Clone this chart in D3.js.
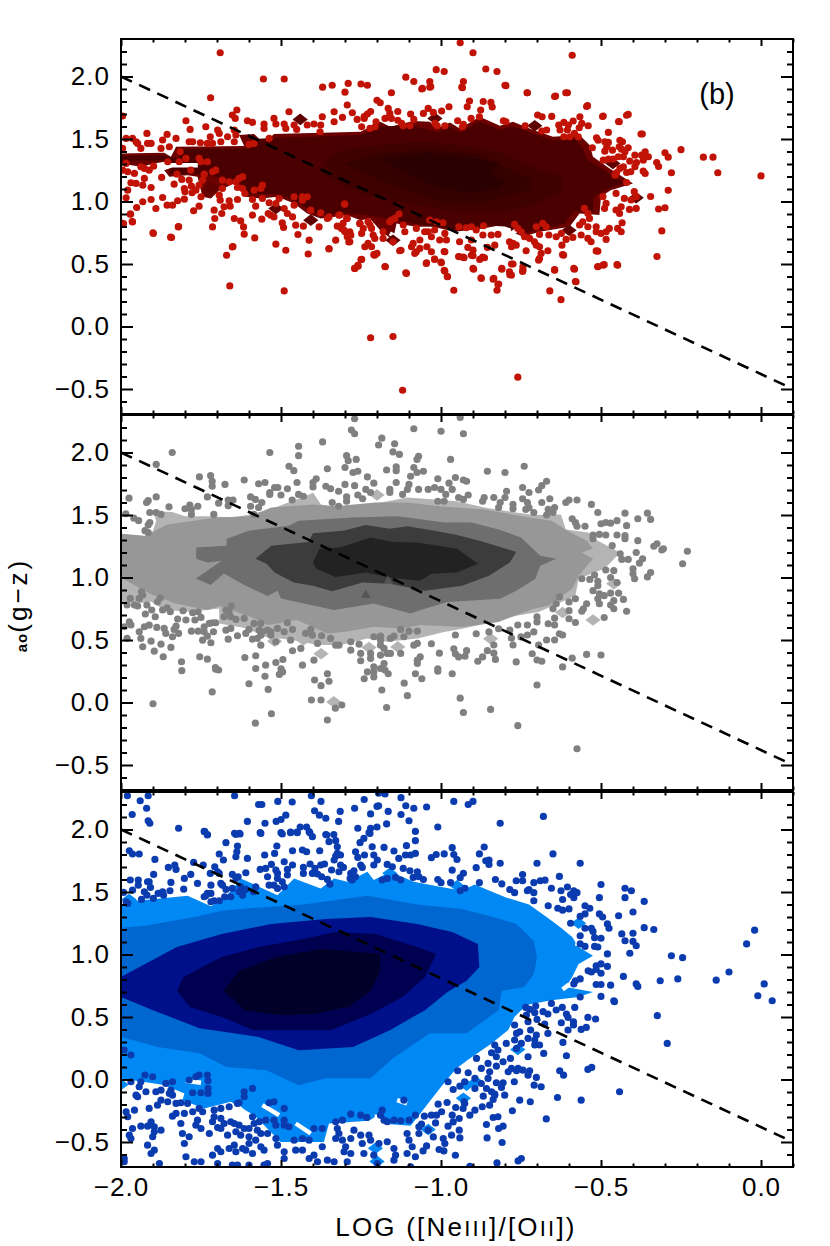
<!DOCTYPE html>
<html>
<head>
<meta charset="utf-8">
<script src="https://cdn.jsdelivr.net/npm/d3@7"></script>
<style>
  html, body { margin: 0; padding: 0; background: #fff; }
  svg { display: block; }
  text { font-family: "Liberation Sans", Arial, sans-serif; fill: #000; }
</style>
</head>
<body>
<div id="graph-section"></div>
<script>
// Axis values
const xMajor = [-2, -1.5, -1, -0.5, 0];
const xMinor = [-1.9,-1.8,-1.7,-1.6,-1.4,-1.3,-1.2,-1.1,-0.9,-0.8,-0.7,-0.6,-0.4,-0.3,-0.2,-0.1,0.1];
const yMajor = [-0.5, 0, 0.5, 1, 1.5, 2];
const yMinor = [-0.6,-0.4,-0.3,-0.2,-0.1,0.1,0.2,0.3,0.4,0.6,0.7,0.8,0.9,1.1,1.2,1.3,1.4,1.6,1.7,1.8,1.9,2.1,2.2];
const dashedLine = [[-2, 2], [0.1, -0.5]];

// Top panel
const redPoints = [[-1.69,2.19],[-0.94,2.27],[-0.9,2.19],[-0.59,2.17],[-1.555,1.98],[-1.49,1.98],[-1.72,1.83],[-1.37,1.915],[-1.34,1.93],[-1.29,1.945],[-1.25,1.94],[-1.23,1.93],[-1.3,1.875],[-1.155,1.87],[-1.11,1.995],[-1.085,1.96],[-1.06,1.9],[-1.035,1.96],[-1.035,1.915],[-1.015,2.055],[-0.99,2.04],[-0.93,1.96],[-0.935,1.915],[-0.86,2.06],[-0.825,2.04],[-0.8,1.93],[-0.73,1.87],[-0.645,1.84],[-0.61,1.87],[-0.545,1.76],[-0.42,1.69],[-0.495,1.68],[-0.445,1.64],[-0.375,1.54],[-0.25,1.415],[-0.18,1.355],[-0.15,1.355],[-0.135,1.23],[0,1.205],[-0.28,1.23],[-0.3,1.39],[-0.29,1.355],[-0.32,1.28],[-0.29,1.09],[-0.3,0.95],[-0.32,0.94],[-0.31,0.765],[-0.325,0.56],[-0.345,1.04],[-0.45,0.495],[-0.49,0.495],[-0.51,0.48],[-0.515,0.605],[-0.58,0.36],[-0.625,0.215],[-0.66,0.285],[-0.585,0.465],[-0.645,0.455],[-0.62,0.575],[-0.76,-0.405],[-1.12,-0.51],[-1.22,-0.09],[-1.15,-0.08],[-1.66,0.325],[-1.49,0.285],[-1.67,0.57],[-1.65,0.64],[-1.485,0.61],[-1.415,0.58],[-1.35,0.62],[-1.27,0.465],[-1.26,0.49],[-1.25,0.535],[-1.175,0.48],[-1.11,0.43],[-1.045,0.51],[-1.02,0.54],[-1,0.515],[-0.99,0.45],[-0.98,0.4],[-0.96,0.29],[-0.9,0.465],[-0.875,0.39],[-0.835,0.385],[-0.82,0.34],[-0.825,0.29],[-0.81,0.465],[-0.785,0.415],[-0.78,0.5],[-0.745,0.44],[-0.945,0.56],[-0.93,0.555],[-0.905,0.57],[-0.87,0.555],[-0.99,0.6],[-1.21,0.575],[-1.125,0.61],[-1.9,0.75],[-1.845,0.715],[-1.82,0.8],[-2,0.83],[-1.965,0.84],[-1.97,0.9],
[-1.2,1.81],[-1.19,1.79],[-1.22,1.72],[-1.23,1.7],[-1.24,1.68],[-1.24,1.665],[-1.165,1.745],[-1.16,1.705],[-1.135,1.72],[-1.175,1.665],[-1.155,1.665],[-1.135,1.65],[-1.095,1.7],[-1.085,1.657],[-1.123,1.625],[-1.118,1.606],[-1.097,1.606],[-1.203,1.638],[-1.206,1.598],[-1.222,1.585],[-1.248,1.598],[-1.055,1.705],[-1.04,1.745],[-1.024,1.713],[-0.998,1.724],[-0.975,1.758],[-0.948,1.646],[-0.911,1.804],[-0.918,1.758],[-0.906,1.665],[-0.88,1.678],[-0.876,1.732],[-0.868,1.8],[-0.844,1.793],[-0.84,1.756],[-0.805,1.646],[-0.797,1.638],[-0.737,1.606],[-0.698,1.692],[-0.684,1.678],[-0.654,1.681],[-0.731,1.87],[-0.642,1.844],[-0.605,1.87],[-0.542,1.767],[-0.566,1.678],[-0.493,1.684],[-0.443,1.638],[-0.415,1.697],[-0.371,1.54],[-0.477,1.553],[-0.54,1.606],[-0.56,1.625],[-0.568,1.59],[-0.587,1.644],[-0.616,1.633],[-0.632,1.612],[-0.602,1.612],[-0.628,1.572],[-0.605,1.572],[-0.616,1.518],[-0.597,1.518],[-0.583,1.545],[-0.571,1.518],[-0.685,1.564],[-0.67,1.572],[-1.019,1.625],[-1.012,1.606],[-0.988,1.606],[-0.933,1.598],[-0.93,1.617],[-0.514,1.51],[-0.509,1.49],[-0.527,1.43],[-0.488,1.478],[-0.477,1.473],[-0.482,1.438],[-0.488,1.403],[-0.464,1.411],[-0.441,1.49],[-0.433,1.478],[-0.443,1.438],[-0.436,1.419],[-0.415,1.43],[-0.425,1.398],[-0.394,1.371],[-0.373,1.371],[-0.362,1.398],[-0.352,1.358],[-0.368,1.331],[-0.41,1.323],[-0.389,1.312],[-0.394,1.278],[-0.368,1.243],[-0.362,1.224],[-0.326,1.312],[-0.446,1.358],[-0.43,1.358],[-0.493,1.331],[-0.477,1.339],[-0.462,1.339],[-0.43,1.278],[-0.441,1.265],[-0.451,1.232],[-0.42,1.232],[-0.407,1.238],[-0.456,1.211],[-0.42,1.152],[-1.058,1.905],[-1.032,1.919],[-0.933,1.91],[-0.797,1.927],
[-1.301,0.98],[-1.316,0.892],[-1.295,0.865],[-1.306,0.825],[-1.311,0.785],[-1.3,0.758],[-1.285,0.758],[-1.293,0.718],[-1.285,0.678],[-1.254,0.825],[-1.243,0.785],[-1.228,0.838],[-1.222,0.812],[-1.217,0.785],[-1.248,0.745],[-1.212,0.732],[-1.207,0.705],[-1.238,0.638],[-1.228,0.665],[-1.217,0.638],[-1.181,0.758],[-1.181,0.705],[-1.155,0.852],[-1.144,0.865],[-1.131,0.9],[-1.16,0.838],[-1.118,0.812],[-1.113,0.758],[-1.15,0.678],[-1.129,0.606],[-1.207,0.571],[-1.2,0.585],[-1.248,0.537],[-1.269,0.465],[-1.259,0.483],[-1.174,0.478],[-1.108,0.425],[-1.077,0.785],[-1.087,0.665],[-1.092,0.638],[-1.066,0.692],[-1.051,0.758],[-1.04,0.758],[-1.03,0.718],[-1.066,0.625],[-1.077,0.598],[-1.082,0.585],[-1.044,0.638],[-1.03,0.598],[-0.988,0.598],[-1.02,0.537],[-0.999,0.51],[-1.046,0.505],[-0.988,0.443],[-0.98,0.398],[-1.035,0.852],[-1.014,0.838],[-0.994,0.83],[-0.988,0.745],[-1.02,0.772],[-1.004,0.692],[-0.983,0.692],[-0.944,0.798],[-0.921,0.79],[-0.905,0.798],[-0.867,0.806],[-0.89,0.772],[-0.942,0.678],[-0.905,0.692],[-0.916,0.633],[-0.9,0.611],[-0.9,0.566],[-0.942,0.558],[-0.928,0.55],[-0.879,0.537],[-0.864,0.55],[-0.898,0.459],[-0.874,0.384],[-0.837,0.379],[-0.822,0.336],[-0.81,0.459],[-0.786,0.438],[-0.78,0.411],[-0.775,0.5],[-0.744,0.451],[-0.744,0.478],[-0.855,0.633],[-0.832,0.651],[-0.843,0.732],[-0.822,0.737],[-0.869,0.732],[-0.786,0.678],[-0.775,0.665],[-0.78,0.638],[-0.765,0.651],[-0.734,0.606],[-0.708,0.678],[-0.702,0.651],[-0.692,0.638],[-0.687,0.585],[-0.666,0.606],[-0.692,0.545],[-0.695,0.531],[-0.645,0.451],[-0.617,0.571],[-0.622,0.651],[-0.583,0.459],[-0.578,0.358],[-0.51,0.603],[-0.51,0.478],[-0.494,0.491],[-0.448,0.491],[-0.484,0.697],[-0.77,0.817],[-0.76,0.785],[-0.749,0.758],[-0.739,0.718],[-0.723,0.705],[-0.692,0.737],[-0.702,0.798],[-0.682,0.825],[-0.671,0.798],[-0.663,0.732],[-0.64,0.718],[-0.624,0.745],[-0.609,0.697],[-0.588,0.713],[-0.567,0.812],[-0.552,0.945],[-0.541,0.905],[-0.536,0.865],[-0.541,0.798],[-0.557,0.838],[-0.562,0.732],[-0.541,0.705],[-0.531,0.678],[-0.515,0.798],[-0.515,0.758],[-0.5,0.745],[-0.484,0.758],[-0.474,0.785],[-0.448,0.785],[-0.437,0.758],[-0.434,0.83],[-0.494,1.039],[-0.484,0.985],[-0.489,0.945],[-0.453,0.932],[-0.442,0.905],[-0.437,0.958],[-0.411,0.937],[-0.39,0.945],[-0.453,1.065],[-0.427,1.025],[-0.406,1.012],[-0.39,1.039],[-0.396,1.079],
[-1.995,1.684],[-1.984,1.505],[-1.964,1.505],[-1.953,1.478],[-1.919,1.545],[-1.917,1.465],[-1.948,1.465],[-1.906,1.465],[-1.938,1.425],[-1.995,1.425],[-1.87,1.492],[-1.856,1.537],[-1.828,1.505],[-1.849,1.438],[-1.875,1.425],[-1.787,1.478],[-1.776,1.478],[-1.797,1.646],[-1.784,1.577],[-1.735,1.598],[-1.721,1.518],[-1.698,1.572],[-1.688,1.478],[-1.693,1.545],[-1.667,1.518],[-1.641,1.532],[-1.646,1.572],[-1.646,1.478],[-1.752,1.47],[-1.73,1.465],[-1.714,1.465],[-1.815,1.398],[-1.797,1.345],[-1.818,1.318],[-1.854,1.318],[-1.756,1.345],[-1.75,1.318],[-1.73,1.318],[-1.652,1.692],[-1.638,1.732],[-1.643,1.665],[-1.605,1.646],[-1.589,1.633],[-1.553,1.62],[-1.553,1.585],[-1.522,1.665],[-1.516,1.62],[-1.49,1.62],[-1.485,1.585],[-1.459,1.612],[-1.451,1.577],[-1.418,1.612],[-1.397,1.62],[-1.371,1.678],[-1.376,1.612],[-1.334,1.638],[-1.308,1.673],[-1.277,1.71],[-1.262,1.657],[-1.475,1.718],[-1.293,1.772],[-1.334,1.718],[-1.537,1.505],[-1.584,1.465],[-1.6,1.457],[-1.378,1.558],
[-1.984,1.305],[-1.995,1.251],[-1.979,1.238],[-1.958,1.225],[-1.969,1.15],[-1.953,1.145],[-1.927,1.185],[-1.932,1.131],[-1.906,1.112],[-1.979,1.091],[-1.984,1.03],[-1.932,0.998],[-1.906,1.016],[-1.951,0.952],[-1.891,0.944],[-1.971,0.899],[-1.964,0.837],[-1.992,0.824],[-1.899,0.744],[-1.842,0.712],[-1.821,0.797],[-1.87,1.032],[-1.856,0.971],[-1.839,0.971],[-1.823,1.006],[-1.802,1.019],[-1.773,0.926],[-1.756,0.963],[-1.75,1.038],[-1.778,1.07],[-1.8,1.078],[-1.802,1.104],[-1.81,1.177],[-1.834,1.139],[-1.825,1.219],[-1.873,1.193],[-1.927,1.265],[-1.912,1.251],[-1.898,1.283],[-1.938,1.278],[-1.782,1.251],[-1.787,1.171],[-1.78,1.123],[-1.766,1.091],[-1.74,1.219],[-1.714,1.238],[-1.704,1.251],[-1.745,1.171],[-1.756,1.131],[-1.683,1.171],[-1.662,1.158],[-1.631,1.185],[-1.62,1.198],[-1.641,1.158],[-1.636,1.112],[-1.62,1.104],[-1.613,1.064],[-1.558,1.131],[-1.563,1.104],[-1.584,1.091],[-1.589,1.016],[-1.579,0.963],[-1.636,1.016],[-1.662,1.006],[-1.659,0.963],[-1.678,0.958],[-1.693,1.051],[-1.69,1.011],[-1.683,1.104],[-1.709,0.931],[-1.707,0.864],[-1.714,0.797],[-1.685,0.904],[-1.646,0.864],[-1.626,0.845],[-1.617,0.797],[-1.615,0.739],[-1.582,0.709],[-1.56,0.859],[-1.589,0.891],[-1.54,0.904],[-1.532,0.891],[-1.516,0.659],[-1.522,0.877],[-1.652,0.637],[-1.496,0.829],[-1.492,0.792],[-1.447,0.736],[-1.412,0.691],[-1.48,0.904],[-1.464,0.877],[-1.454,0.811],[-1.43,0.803],[-1.381,0.797],[-1.355,0.864],[-1.329,0.691],[-1.324,0.803],[-1.301,0.979],[-1.293,0.864],[-1.303,0.771],[-1.288,0.677],[-1.282,0.731],[-1.35,0.624],[-1.253,0.824],[-1.459,1.038],[-1.433,1.038],[-1.418,1.038],[-1.506,1.024],[-1.558,1.024],[-1.537,0.99],[-1.516,0.984],[-1.49,0.944],[-1.459,0.971],[-1.433,1.011],[-1.407,0.931],[-1.376,0.91],[-1.35,0.877],[-1.319,0.891]];
const redLevel1 = [[-2,1.385],[-1.865,1.39],[-1.844,1.358],[-1.828,1.438],[-1.615,1.444],[-1.631,1.532],[-1.584,1.54],[-1.553,1.465],[-1.522,1.54],[-1.251,1.558],[-1.19,1.638],[-1.159,1.598],[-1.087,1.644],[-1.035,1.638],[-1.014,1.585],[-0.972,1.633],[-0.941,1.585],[-0.879,1.678],[-0.816,1.606],[-0.775,1.638],[-0.712,1.572],[-0.65,1.518],[-0.567,1.532],[-0.535,1.451],[-0.525,1.358],[-0.473,1.264],[-0.4,1.144],[-0.47,1.09],[-0.5,1.039],[-0.505,0.892],[-0.567,0.905],[-0.598,0.798],[-0.63,0.785],[-0.692,0.758],[-0.744,0.718],[-0.78,0.758],[-0.786,0.825],[-0.869,0.785],[-0.957,0.758],[-1.025,0.798],[-1.077,0.798],[-1.139,0.825],[-1.15,0.692],[-1.186,0.758],[-1.222,0.865],[-1.251,0.851],[-1.293,0.891],[-1.376,0.864],[-1.418,0.904],[-1.459,0.984],[-1.511,1.038],[-1.563,1.024],[-1.61,1.038],[-1.646,1.144],[-1.693,1.091],[-1.719,1.024],[-1.745,1.038],[-1.761,1.198],[-1.792,1.211],[-1.849,1.198],[-1.865,1.251],[-1.834,1.278],[-1.865,1.318],[-1.896,1.305],[-1.938,1.278],[-2,1.305]];
const redLevel2 = [[-2,1.365],[-1.87,1.37],[-1.82,1.34],[-1.81,1.42],[-1.6,1.425],[-1.58,1.5],[-1.52,1.51],[-1.25,1.53],[-1.19,1.6],[-1.09,1.61],[-1.01,1.555],[-0.97,1.6],[-0.94,1.55],[-0.88,1.64],[-0.815,1.575],[-0.775,1.6],[-0.71,1.54],[-0.65,1.49],[-0.58,1.5],[-0.555,1.42],[-0.545,1.34],[-0.49,1.25],[-0.43,1.15],[-0.49,1.09],[-0.525,1.03],[-0.525,0.915],[-0.585,0.925],[-0.615,0.82],[-0.69,0.78],[-0.74,0.75],[-0.8,0.8],[-0.87,0.81],[-0.96,0.78],[-1.08,0.82],[-1.14,0.85],[-1.23,0.89],[-1.3,0.91],[-1.37,0.89],[-1.41,0.93],[-1.45,1],[-1.51,1.06],[-1.6,1.06],[-1.63,1.16],[-1.75,1.22],[-1.85,1.22],[-1.84,1.28],[-1.87,1.33],[-2,1.325]];
const redLevel3 = [[-1.35,1.35],[-1.3,1.42],[-1.2,1.45],[-1.05,1.48],[-0.9,1.44],[-0.8,1.38],[-0.72,1.28],[-0.62,1.2],[-0.62,1.08],[-0.7,0.98],[-0.8,0.92],[-0.95,0.92],[-1.1,0.98],[-1.2,1.03],[-1.3,1.12],[-1.37,1.22]];
const redLevel4 = [[-1.3,1.3],[-1.2,1.38],[-1.05,1.42],[-0.88,1.38],[-0.78,1.25],[-0.72,1.18],[-0.72,1.1],[-0.85,1],[-1,1],[-1.12,1.1],[-1.2,1.18]];
const redLevel5 = [[-1.19,1.34],[-1.05,1.39],[-0.9,1.35],[-0.82,1.3],[-0.85,1.22],[-0.8,1.17],[-0.82,1.1],[-0.92,1.07],[-1.03,1.13],[-1.1,1.22]];
const redSpecks = [[-1.44,1.657],[-1.516,0.944],[-1.407,0.851],[-1.019,1.665],[-0.707,1.606],[-0.463,1.305],[-1.15,0.69],[-0.6,0.77],[-0.39,1.03],[-1.72,1.104]];
const redGaps = [[[-1.855,1.29],[-1.76,1.29]],[[-0.78,0.74],[-0.76,0.78]],[[-1.16,0.745],[-1.13,0.705]],[[-1.118,0.8],[-1.09,0.76]]];

// Middle panel
const grayPoints = [[-1.27,2.27],[-0.94,2.28],[-1.28,2.18],[-1.27,2.15],[-1.085,2.19],[-1,2.17],[-0.93,2.15],[-1.37,2.085],[-1.445,2.05],[-1.445,1.975],[-1.185,2.115],[-1.145,2.07],[-1.195,2.06],[-1.15,2.005],[-1.13,1.985],[-1.84,2],[-1.535,2],[-1.89,1.905],[-1.295,1.975],[-1.29,1.935],[-1.265,1.945],[-1.07,1.97],[-1.075,1.945],[-0.97,1.945],[-1.475,1.89],[-1.46,1.855],[-1.355,1.87],[-1.3,1.88],[-1.26,1.85],[-1.17,1.86],[-1.14,1.885],[-1.14,1.855],[-1.085,1.88],[-1.075,1.84],[-1.055,1.85],[-0.855,1.85],[-0.8,1.84],[-0.74,1.89],[-1.755,1.805],[-1.72,1.815],[-1.715,1.77],[-1.715,1.73],[-1.675,1.745],[-1.615,1.78],[-1.57,1.75],[-1.55,1.76],[-1.45,1.76],[-1.39,1.79],[-1.4,1.76],[-1.4,1.725],[-1.36,1.73],[-1.345,1.71],[-1.32,1.69],[-1.3,1.745],[-1.275,1.84],[-1.27,1.735],[-1.23,1.805],[-1.21,1.755],[-1.235,1.705],[-1.14,1.76],[-1.095,1.81],[-1.1,1.745],[-1.105,1.705],[-1.01,1.79],[-0.975,1.755],[-0.955,1.8],[-0.93,1.78],[-0.92,1.77],[-0.965,1.705],[-1.02,1.72],[-1.04,1.705],[-1,1.705],[-1.535,1.68],[-1.52,1.72],[-1.51,1.72],[-1.5,1.66],[-1.48,1.71],[-1.445,1.665],[-1.465,1.62],[-1.43,1.65],[-1.595,1.645],[-1.58,1.625],[-1.595,1.57],[-1.57,1.56],[-1.56,1.6],[-1.535,1.665],[-1.665,1.62],[-1.65,1.62],[-1.665,1.575],[-1.695,1.595],[-1.73,1.645],[-1.975,1.635],[-1.89,1.645],[-1.915,1.615],[-1.92,1.6],[-1.85,1.565],[-1.785,1.58],[-1.8,1.55],[-1.78,1.545],[-1.78,1.505],[-1.76,1.57],[-1.71,1.505],[-1.985,1.51],[-1.96,1.475],[-1.945,1.455],[-1.91,1.52],[-1.89,1.52],[-1.875,1.505],[-1.91,1.44],[-1.915,1.42],[-1.925,1.375],[-1.915,1.36],[-1.585,1.505],
[-1.34,1.6],[-1.32,1.57],[-1.295,1.645],[-1.295,1.61],[-1.26,1.66],[-1.245,1.63],[-1.22,1.68],[-1.16,1.705],[-1.16,1.68],[-1.12,1.665],[-1.07,1.705],[-0.985,1.665],[-0.99,1.61],[-1.01,1.61],[-0.945,1.64],[-0.915,1.66],[-0.93,1.625],[-0.865,1.64],[-0.835,1.64],[-0.87,1.61],[-0.82,1.56],[-0.815,1.6],[-0.795,1.69],[-0.8,1.64],[-0.745,1.72],[-0.725,1.68],[-0.695,1.7],[-0.685,1.735],[-0.67,1.77],[-0.745,1.63],[-0.73,1.6],[-0.775,1.585],[-0.775,1.55],[-0.735,1.545],[-0.725,1.56],[-0.71,1.52],[-0.685,1.6],[-0.66,1.63],[-0.665,1.545],[-0.67,1.5],[-0.645,1.56],[-0.65,1.52],[-0.61,1.6],[-0.6,1.62],[-0.575,1.62],[-0.53,1.585],[-0.51,1.52],[-0.59,1.47],[-0.58,1.44],[-0.575,1.41],[-0.55,1.41],[-0.525,1.34],[-0.525,1.31],[-0.505,1.345],[-0.5,1.43],[-0.485,1.44],[-0.47,1.435],[-0.45,1.455],[-0.425,1.515],[-0.385,1.47],[-0.355,1.515],[-0.345,1.465],[-0.42,1.415],[-0.485,1.34],[-0.45,1.34],[-0.425,1.335],[-0.425,1.31],[-0.385,1.295],[-0.465,1.255],[-0.39,1.2],[-0.335,1.25],[-0.325,1.27],[-0.31,1.22],[-0.305,1.23],[-0.23,1.21],[-0.245,1.11],[-0.44,1.19],[-0.435,1.145],[-0.415,1.145],[-0.37,1.15],[-0.38,1.115],[-0.4,1.07],[-0.4,1.03],[-0.395,0.99],[-0.345,1.04],[-0.355,1.005],
[-0.52,1.02],[-0.485,1.06],[-0.46,1.055],[-0.47,1],[-0.45,0.96],[-0.51,0.97],[-0.51,0.935],[-0.535,0.985],[-0.56,0.99],[-0.525,0.895],[-0.505,0.87],[-0.49,0.855],[-0.47,0.875],[-0.445,0.875],[-0.43,0.825],[-0.46,0.815],[-0.47,0.78],[-0.46,0.75],[-0.42,0.73],[-0.49,0.68],[-0.51,0.83],[-0.505,0.79],[-0.545,0.79],[-0.555,0.75],[-0.56,0.73],[-0.58,0.83],[-0.6,0.805],[-0.63,0.845],[-0.64,0.79],[-0.65,0.75],[-0.6,0.735],[-0.6,0.67],[-0.58,0.64],[-0.645,0.675],[-0.645,0.62],[-0.665,0.63],[-0.7,0.685],[-0.7,0.645],[-0.73,0.62],[-0.76,0.62],[-0.785,0.58],[-0.82,0.59],[-0.85,0.565],[-0.63,0.55],[-0.62,0.54],[-0.645,0.5],[-0.67,0.5],[-0.695,0.46],[-0.71,0.565],[-0.73,0.54],[-0.75,0.525],[-0.78,0.515],[-0.775,0.46],[-0.715,0.39],[-0.7,0.34],[-0.685,0.33],[-0.765,0.325],[-0.62,0.285],[-0.59,0.355],[-0.545,0.385],[-0.5,0.38],[-0.7,0.14],[-0.76,-0.185],[-0.575,-0.37],[-0.845,-0.055],[-0.93,-0.08],[-0.94,0.035],
[-0.89,0.55],[-0.835,0.46],[-0.835,0.395],[-0.83,0.345],[-0.855,0.415],[-0.87,0.365],[-0.885,0.33],[-0.92,0.415],[-0.955,0.39],[-0.945,0.365],[-0.925,0.37],[-0.96,0.43],[-0.955,0.54],[-1.005,0.395],[-1.03,0.47],[-1.01,0.27],[-0.965,0.23],[-1.01,0.25],[-1.065,0.365],[-1.08,0.23],[-1.06,0.19],[-1.115,0.155],[-1.105,0.055],[-1.185,0.1],[-1.17,-0.04],[-1.23,0.245],[-1.21,0.245],[-1.24,0.19],[-1.21,0.205],[-1.175,0.26],[-1.165,0.23],[-1.5,0.27],[-1.495,0.245],[-1.505,0.225],[-1.55,0.21],[-1.6,0.15],[-1.54,0.105],[-1.395,0.18],[-1.375,0.135],[-1.355,0.23],[-1.35,0.17],[-1.405,0.02],[-1.375,0.02],[-1.31,-0.02],[-1.33,-0.045],[-1.355,-0.14],[-1.53,-0.09],[-1.58,-0.165],[-1.715,0.085],[-1.9,-0.01],[-1.81,0.255],[-1.705,0.28],[-1.695,0.26],
[-1.971,0.833],[-1.936,0.886],[-1.932,0.86],[-1.943,0.833],[-1.877,0.838],[-1.886,0.806],[-1.981,0.78],[-1.958,0.78],[-1.948,0.772],[-1.919,0.78],[-1.904,0.74],[-1.924,0.708],[-1.893,0.686],[-1.87,0.74],[-1.856,0.758],[-1.846,0.726],[-1.806,0.734],[-1.823,0.668],[-1.797,0.66],[-1.776,0.718],[-1.759,0.726],[-1.75,0.681],[-1.769,0.66],[-1.943,0.566],[-1.938,0.513],[-1.932,0.446],[-1.912,0.619],[-1.927,0.606],[-1.888,0.601],[-1.865,0.593],[-1.86,0.553],[-1.839,0.526],[-1.834,0.585],[-1.82,0.553],[-1.828,0.611],[-1.78,0.571],[-1.759,0.571],[-1.74,0.606],[-1.74,0.566],[-1.73,0.531],[-1.745,0.499],[-1.719,0.478],[-1.711,0.566],[-1.714,0.638],[-1.724,0.633],[-1.704,0.638],[-1.906,0.491],[-1.875,0.467],[-1.844,0.441],[-1.896,0.411],[-1.868,0.366],[-1.811,0.326],[-1.754,0.366],[-1.73,0.347],[-1.672,0.74],[-1.655,0.772],[-1.662,0.726],[-1.678,0.686],[-1.657,0.686],[-1.641,0.665],[-1.615,0.673],[-1.672,0.579],[-1.657,0.593],[-1.636,0.534],[-1.665,0.507],[-1.61,0.553],[-1.6,0.585],[-1.584,0.633],[-1.563,0.633],[-1.568,0.579],[-1.558,0.566],[-1.563,0.539],[-1.589,0.507],[-1.574,0.513],[-1.563,0.459],[-1.542,0.579],[-1.532,0.566],[-1.511,0.593],[-1.48,0.638],[-1.49,0.566],[-1.464,0.585],[-1.47,0.499],[-1.516,0.486],[-1.532,0.539],[-1.407,0.585],[-1.423,0.553],[-1.402,0.539],[-1.373,0.534],[-1.386,0.473],[-1.345,0.513],[-1.329,0.459],[-1.319,0.459],[-1.282,0.486],[-1.256,0.467],[-1.282,0.419],[-1.251,0.393],[-1.251,0.334],[-1.22,0.393],[-1.22,0.353],[-1.21,0.526],[-1.189,0.531],[-1.189,0.499],[-1.158,0.513],[-1.147,0.531],[-1.126,0.585],[-1.1,0.571],[-1.074,0.571],[-1.116,0.526],[-1.189,0.459],[-1.178,0.433],[-1.168,0.393],[-1.158,0.393],[-1.189,0.379],[-1.178,0.312],[-1.21,0.286],[-1.189,0.272],[-1.126,0.393],[-1.085,0.459],[-1.074,0.473],[-1.074,0.339],[-1.074,0.312],[-1.613,0.36],[-1.579,0.374],[-1.516,0.32],[-1.494,0.344],[-1.464,0.414],[-1.438,0.433],[-1.433,0.299],[-1.397,0.339],[-1.548,0.299],[-1.579,0.272],[-1.704,0.267],[-1.981,0.513],[-1.974,0.646],[-1.969,0.62],[-1.99,0.606]];
const grayLevel1 = [[-2,1.35],[-1.94,1.33],[-1.905,1.335],[-1.89,1.455],[-1.9,1.53],[-1.84,1.525],[-1.8,1.49],[-1.715,1.49],[-1.655,1.48],[-1.595,1.505],[-1.535,1.545],[-1.415,1.66],[-1.4,1.68],[-1.375,1.585],[-1.315,1.56],[-1.22,1.585],[-1.105,1.64],[-1.02,1.625],[-0.95,1.61],[-0.865,1.56],[-0.765,1.52],[-0.71,1.5],[-0.625,1.505],[-0.61,1.385],[-0.54,1.36],[-0.51,1.295],[-0.44,1.2],[-0.47,1.12],[-0.49,1.07],[-0.57,0.99],[-0.58,0.855],[-0.65,0.775],[-0.695,0.725],[-0.765,0.695],[-0.835,0.645],[-0.935,0.59],[-0.99,0.565],[-1.074,0.513],[-1.168,0.486],[-1.23,0.513],[-1.314,0.46],[-1.386,0.46],[-1.459,0.499],[-1.553,0.526],[-1.605,0.593],[-1.693,0.633],[-1.693,0.753],[-1.782,0.726],[-1.865,0.74],[-1.906,0.806],[-1.948,0.793],[-2,0.806]];
const grayLevel2 = [[-2,1.35],[-1.925,1.335],[-1.855,1.425],[-1.7,1.48],[-1.595,1.49],[-1.53,1.56],[-1.4,1.585],[-1.33,1.57],[-1.205,1.6],[-1.105,1.6],[-1.005,1.57],[-0.865,1.545],[-0.725,1.48],[-0.655,1.455],[-0.605,1.375],[-0.545,1.295],[-0.525,1.23],[-0.56,1.2],[-0.525,1.15],[-0.57,1.015],[-0.59,0.91],[-0.665,0.775],[-0.71,0.75],[-0.82,0.645],[-0.935,0.605],[-1.064,0.62],[-1.126,0.593],[-1.21,0.606],[-1.3,0.566],[-1.355,0.553],[-1.45,0.66],[-1.54,0.62],[-1.59,0.68],[-1.69,0.772],[-1.73,0.74],[-1.83,0.793],[-1.9,0.86],[-1.94,0.913],[-2,1]];
const grayLevel3 = [[-1.765,1.24],[-1.67,1.255],[-1.67,1.31],[-1.6,1.375],[-1.475,1.415],[-1.445,1.455],[-1.275,1.48],[-1.135,1.49],[-0.99,1.44],[-0.905,1.44],[-0.82,1.385],[-0.75,1.32],[-0.69,1.175],[-0.64,1.15],[-0.69,1.095],[-0.705,0.99],[-0.765,0.895],[-0.815,0.83],[-0.98,0.805],[-1.064,0.74],[-1.095,0.713],[-1.21,0.793],[-1.334,0.74],[-1.5,0.833],[-1.511,0.894],[-1.542,0.852],[-1.615,0.94],[-1.678,1.033],[-1.72,0.94],[-1.766,0.993],[-1.685,1.135],[-1.73,1.12],[-1.765,1.15]];
const grayLevel4 = [[-1.58,1.15],[-1.53,1.255],[-1.415,1.285],[-1.4,1.355],[-1.305,1.375],[-1.235,1.42],[-1.16,1.39],[-1.105,1.41],[-1.02,1.375],[-0.95,1.34],[-0.88,1.295],[-0.765,1.205],[-0.785,1.12],[-0.85,1.015],[-0.935,0.935],[-1.05,0.895],[-1.16,0.95],[-1.245,0.96],[-1.34,0.89],[-1.4,0.935],[-1.46,0.96],[-1.52,1.04],[-1.545,1.11]];
const grayLevel5 = [[-1.4,1.12],[-1.38,1.23],[-1.315,1.24],[-1.22,1.32],[-1.15,1.285],[-1.075,1.28],[-0.95,1.23],[-0.885,1.11],[-0.95,1.04],[-1.03,1.03],[-1.065,0.975],[-1.16,1],[-1.235,1.04],[-1.33,1.005],[-1.39,1.07]];
const graySpecks = [[-1.335,0.005],[-1.52,0.49],[-1.375,0.39],[-1.225,0.44],[-1.135,0.445],[-0.525,0.66],[-0.845,0.51],[-0.46,0.95],[-1.2,1.66],[-1.43,0.5],[-0.62,0.72]];
const grayDarkSpecks = [[-1.235,0.86],[-1.165,0.97]];

// Bottom panel
const bluePoints = [[-1.98,2.27],[-1.94,2.23],[-1.915,2.27],[-1.92,2.17],[-1.965,2.12],[-1.915,2.07],[-1.91,2.05],[-1.82,2.01],[-1.74,1.985],[-1.73,1.96],[-1.645,2.27],[-1.57,2.2],[-1.56,2.2],[-1.51,2.225],[-1.465,2.22],[-1.405,2.27],[-1.375,2.225],[-1.395,2.15],[-1.38,2.115],[-1.36,2.09],[-1.315,2.145],[-1.32,2.065],[-1.27,2.17],[-1.24,2.24],[-1.195,2.29],[-1.175,2.285],[-1.125,2.255],[-1.2,2.185],[-1.195,2.19],[-1.22,2.125],[-1.165,2.145],[-1.125,2.12],[-1.11,2.19],[-1.085,2.17],[-1.045,2.18],[-1.1,2.07],[-0.96,2.225],[-0.915,2.2],[-0.9,2.225],[-1.01,2.02],[-0.68,2.105],[-0.815,2.05],[-1.08,1.985],[-1.17,2.045],[-1.26,2.01],[-1.22,2.01],[-1.2,2.02],[-1.225,1.975],[-1.335,1.96],[-1.36,1.96],[-1.44,2.02],[-1.42,2.02],[-1.41,1.975],[-1.47,1.98],[-1.45,1.98],[-1.5,1.975],[-1.565,1.975],[-1.645,1.97],[-1.63,1.97],[-1.605,2.065],[-1.55,2.05],[-1.515,2.065],[-1.5,2.08],[-1.485,2.115],[-1.03,1.775],[-1.015,1.8],[-0.99,1.805],[-0.965,1.855],[-0.96,1.8],[-0.95,1.76],[-0.88,1.805],[-0.865,1.86],[-0.86,1.75],[-0.85,1.755],[-0.85,1.72],[-0.815,1.73],[-0.7,1.73],[-0.65,1.805],[-0.565,1.73],[-0.745,1.64],[-0.63,1.625],[-1.055,1.6],[-1.01,1.6],[-1,1.575],[-0.97,1.575],[-0.965,1.675],[-0.94,1.615],[-0.93,1.65],[-0.89,1.695],[-0.88,1.575],[-0.94,1.51],[-0.925,1.53],[-0.83,1.6],[-0.81,1.565],[-0.785,1.52],[-0.77,1.495],
[-0.5,1.56],[-0.425,1.53],[-0.405,1.51],[-0.425,1.455],[-0.365,1.425],[-0.505,1.455],[-0.445,1.31],[-0.4,1.34],[-0.365,1.215],[-0.335,1.2],[-0.435,1.165],[-0.4,1.17],[-0.425,1.11],[-0.4,1.105],[-0.39,1.07],[-0.41,1.01],[-0.48,1.005],[-0.28,0.99],[-0.245,0.975],[-0.045,1.085],[-0.02,1.195],[-0.43,0.825],[-0.39,0.765],[-0.385,0.745],[-0.315,0.79],[-0.26,0.805],[-0.14,0.795],[-0.1,0.86],[0.01,0.765],[-0.01,0.67],[0.035,0.63],[-0.46,0.63],[-0.5,0.665],[-0.47,0.755],[-0.565,0.66],
[-0.765,1.59],[-0.745,1.59],[-0.71,1.575],[-0.69,1.59],[-0.675,1.595],[-0.725,1.52],[-0.73,1.51],[-0.71,1.495],[-0.655,1.53],[-0.625,1.51],[-0.605,1.54],[-0.585,1.51],[-0.595,1.48],[-0.575,1.495],[-0.585,1.455],[-0.62,1.44],[-0.71,1.43],[-0.665,1.39],[-0.635,1.37],[-0.62,1.355],[-0.6,1.365],[-0.55,1.39],[-0.535,1.37],[-0.55,1.325],[-0.565,1.305],[-0.595,1.25],[-0.505,1.325],[-0.495,1.3],[-0.48,1.245],[-0.475,1.21],[-0.55,1.21],[-0.53,1.21],[-0.525,1.185],[-0.565,1.15],[-0.52,1.135],[-0.5,1.13],[-0.565,1.085],[-0.55,1.065],[-0.52,1.065],[-0.51,1.06],[-0.54,0.87],[-0.53,0.86],[-0.515,0.91],[-0.5,0.925],[-0.48,0.905],[-0.515,0.88],[-0.5,0.85],[-0.58,0.79],[-0.565,0.805],[-0.585,0.765],[-0.515,0.76],[-0.5,0.76],
[-1.974,1.83],[-1.964,1.804],[-1.943,1.804],[-1.894,1.761],[-1.852,1.697],[-1.832,1.716],[-1.828,1.681],[-1.773,1.737],[-1.743,1.716],[-1.721,1.649],[-1.707,1.702],[-1.698,1.662],[-1.693,1.649],[-1.693,1.804],[-1.68,1.756],[-1.672,1.895],[-1.636,1.868],[-1.638,1.822],[-1.641,1.782],[-1.605,1.769],[-1.551,1.796],[-1.52,1.809],[-1.513,1.868],[-1.565,1.681],[-1.548,1.689],[-1.53,1.721],[-1.49,1.742],[-1.464,1.83],[-1.464,1.716],[-1.48,1.681],[-1.516,1.676],[-1.511,1.649],[-1.542,1.622],[-1.511,1.609],[-1.48,1.636],[-1.496,1.582],[-1.49,1.542],[-1.511,1.529],[-1.537,1.555],[-1.522,1.555],[-1.43,1.697],[-1.409,1.724],[-1.43,1.649],[-1.433,1.836],[-1.42,1.822],[-1.379,1.83],[-1.394,1.689],[-1.376,1.716],[-1.364,1.724],[-1.402,1.649],[-1.386,1.644],[-1.373,1.622],[-1.355,1.601],[-1.347,1.563],[-1.334,1.756],[-1.324,1.809],[-1.329,1.788],[-1.314,1.796],[-1.314,1.716],[-1.305,1.697],[-1.319,1.662],[-1.342,1.676],[-1.282,1.649],[-1.272,1.67],[-1.284,1.609],[-1.277,1.596],[-1.267,1.622],[-1.267,1.822],[-1.26,1.777],[-1.239,1.796],[-1.251,1.716],[-1.246,1.697],[-1.21,1.716],[-1.199,1.756],[-1.215,1.862],[-1.21,1.796],[-1.178,1.857],[-1.147,1.828],[-1.132,1.769],[-1.111,1.796],[-1.095,1.796],[-1.08,1.809],[-1.168,1.721],[-1.152,1.702],[-1.118,1.689],[-1.097,1.67],[-1.074,1.662],[-1.168,1.609],[-1.184,1.596],[-1.142,1.617],[-1.126,1.596],[-1.087,1.617],[-1.069,1.622],[-1.108,1.871],[-1.08,1.911],[-1.253,1.895],[-1.241,1.929],[-1.222,1.969],[-1.324,1.862],[-1.329,1.911],[-1.35,1.903],[-1.357,1.956],[-1.402,1.943],[-1.412,1.983],[-1.449,1.975],[-1.47,1.975],[-1.496,1.964],[-1.563,1.969],[-1.628,1.964],[-1.641,1.961],[-1.73,1.956],[-1.738,1.983],[-1.61,1.654],[-1.652,1.641],[-1.641,1.609],[-1.634,1.622],[-1.688,1.569],[-1.683,1.555],[-1.719,1.555],[-1.761,1.569],[-1.802,1.609],[-1.782,1.641],[-1.844,1.577],[-1.804,1.523],[-1.847,1.51],[-1.898,1.641],[-1.912,1.582],[-1.917,1.582],[-1.946,1.596],[-1.946,1.555],[-1.971,1.596],[-1.964,1.515],[-1.908,1.537],[-1.927,1.502],[-1.919,1.475],[-1.884,1.489],[-1.87,1.502],[-1.867,1.475],[-1.899,1.449],[-1.936,1.441],[-1.992,1.497],[-1.984,1.422],[-1.979,1.409],[-1.73,1.489],[-1.735,1.47],[-1.719,1.489],[-1.74,1.462],[-1.709,1.43],[-1.693,1.43],[-1.719,1.422],[-1.676,1.462],[-1.657,1.462],[-1.672,1.521],[-1.652,1.529],[-1.626,1.542],[-1.631,1.502],[-1.61,1.521],[-1.62,1.475],[-1.579,1.542],[-1.586,1.502],
[-1.99,0.236],[-1.969,0.196],[-1.925,0.036],[-1.901,0.022],[-1.938,-0.018],[-1.969,-0.018],[-1.943,-0.058],[-1.953,-0.125],[-1.922,-0.098],[-1.891,-0.098],[-1.875,-0.085],[-1.86,-0.031],[-1.839,-0.018],[-1.844,-0.085],[-1.849,-0.111],[-1.839,-0.125],[-1.787,-0.004],[-1.766,0.022],[-1.756,0.036],[-1.73,0.036],[-1.728,-0.01],[-1.728,-0.071],[-1.728,-0.111],[-1.75,-0.106],[-1.776,-0.106],[-1.615,-0.098],[-1.589,-0.071],[-1.615,-0.138],[-1.636,-0.191],[-1.631,-0.186],[-1.537,-0.186],[-1.522,-0.178],[-1.49,-0.231],[-1.49,-0.325],[-1.49,-0.365],[-1.475,-0.378],[-1.397,-0.392],[-1.371,-0.392],[-1.329,-0.338],[-1.308,-0.325],[-1.282,-0.277],[-1.251,-0.285],[-1.232,-0.303],[-1.184,-0.245],[-1.189,-0.285],[-1.178,-0.325],[-1.168,-0.338],[-1.147,-0.325],[-1.126,-0.33],[-1.1,-0.325],[-1.08,-0.285],[-1.069,-0.378],[-1.116,-0.165],
[-1.875,-0.165],[-1.886,-0.205],[-1.912,-0.231],[-1.854,-0.178],[-1.828,-0.191],[-1.813,-0.186],[-1.792,-0.191],[-1.828,-0.271],[-1.802,-0.271],[-1.776,-0.258],[-1.756,-0.231],[-1.745,-0.258],[-1.709,-0.245],[-1.688,-0.231],[-1.662,-0.218],[-1.761,-0.325],[-1.766,-0.365],[-1.75,-0.392],[-1.724,-0.432],[-1.709,-0.298],[-1.714,-0.338],[-1.688,-0.311],[-1.678,-0.352],[-1.657,-0.338],[-1.646,-0.352],[-1.631,-0.365],[-1.615,-0.392],[-1.6,-0.392],[-1.584,-0.352],[-1.568,-0.338],[-1.548,-0.325],[-1.522,-0.325],[-1.516,-0.365],[-1.589,-0.298],[-1.574,-0.405],[-1.563,-0.432],[-1.641,-0.418],[-1.626,-0.445],[-1.667,-0.445],[-1.688,-0.392],[-1.698,-0.384],[-1.6,-0.458],[-1.579,-0.485],[-1.542,-0.432],[-1.516,-0.472],[-1.511,-0.525],[-1.49,-0.632],[-1.563,-0.538],[-1.6,-0.512],[-1.61,-0.565],[-1.589,-0.592],[-1.553,-0.565],[-1.646,-0.525],[-1.662,-0.552],[-1.641,-0.578],[-1.62,-0.552],[-1.698,-0.552],[-1.688,-0.578],[-1.714,-0.605],[-1.797,-0.618],[-1.771,-0.658],[-1.75,-0.658],[-1.698,-0.672],[-1.652,-0.685],[-1.636,-0.685],[-1.6,-0.685],[-1.553,-0.685],[-1.542,-0.672],[-1.459,-0.485],[-1.433,-0.472],[-1.412,-0.485],[-1.454,-0.565],[-1.433,-0.565],[-1.397,-0.605],[-1.412,-0.632],[-1.386,-0.658],[-1.49,-0.578],[-1.371,-0.538],[-1.355,-0.645],[-1.334,-0.658],[-1.293,-0.658],[-1.282,-0.592],[-1.298,-0.538],[-1.303,-0.578],[-1.324,-0.392],[-1.319,-0.432],[-1.329,-0.472],[-1.308,-0.485],[-1.282,-0.472],[-1.272,-0.405],[-1.251,-0.445],[-1.225,-0.445],[-1.22,-0.485],[-1.246,-0.512],[-1.241,-0.592],[-1.194,-0.512],[-1.168,-0.498],[-1.147,-0.552],[-1.142,-0.605],[-1.147,-0.645],[-1.106,-0.592],[-1.08,-0.618],[-1.09,-0.538],[-1.069,-0.432],[-1.106,-0.432],[-1.1,-0.485],[-1.21,-0.605],[-1.199,-0.672],[-1.095,-0.698],
[-1.948,-0.138],[-1.958,-0.245],[-1.984,-0.258],[-1.979,-0.298],[-1.974,-0.445],[-1.969,-0.472],[-1.964,-0.392],[-1.938,-0.373],[-1.917,-0.373],[-1.906,-0.338],[-1.896,-0.378],[-1.896,-0.418],[-1.875,-0.405],[-1.901,-0.458],[-1.917,-0.525],[-1.896,-0.565],[-1.906,-0.592],[-1.99,-0.632],[-1.99,-0.658],[-1.88,-0.672],[-1.839,-0.293],[-1.813,-0.352],[-1.808,-0.432],[-1.787,-0.458],[-1.802,-0.512],
[-0.735,0.577],[-0.704,0.588],[-0.723,0.561],[-0.707,0.535],[-0.681,0.543],[-0.666,0.524],[-0.655,0.609],[-0.64,0.556],[-0.621,0.577],[-0.608,0.524],[-0.603,0.497],[-0.582,0.577],[-0.541,0.497],[-0.517,0.484],[-0.586,0.462],[-0.586,0.436],[-0.546,0.417],[-0.562,0.401],[-0.603,0.396],[-0.624,0.454],[-0.676,0.444],[-0.7,0.481],[-0.733,0.516],[-0.728,0.462],[-0.77,0.436],[-0.72,0.396],[-0.764,0.369],[-0.754,0.382],[-0.702,0.356],[-0.666,0.369],[-0.619,0.297],[-0.608,0.19],[-0.679,0.209],[-0.728,0.329],[-0.707,0.316],[-0.692,0.276],[-0.707,0.276],[-0.77,0.316],[-0.796,0.289],[-0.749,0.289],[-0.764,0.249],[-0.832,0.276],[-0.822,0.236],[-0.842,0.214],[-0.827,0.182],[-0.806,0.142],[-0.783,0.169],[-0.728,0.182],[-0.889,0.169],[-0.853,0.129],[-0.827,0.107],[-0.78,0.089],[-0.759,0.089],[-0.744,0.075],[-0.723,0.07],[-0.728,0.035],[-0.702,0.017],[-0.79,0.062],[-0.764,0.07],[-0.629,0.07],[-0.617,0.035],[-0.541,0.081],[-0.529,0.097],[-0.709,-0.045],[-0.687,-0.058],[-0.771,-0.018],[-0.806,-0.026],[-0.811,-0.063],[-0.827,-0.026],[-0.801,-0.125],[-0.832,-0.125],[-0.837,-0.16],[-0.754,-0.165],[-0.721,-0.178],[-0.636,-0.144],[-0.562,-0.165],[-0.442,-0.098],[-0.293,0.289],[-0.324,0.511],[-0.458,0.623],[-0.777,-0.25],[-0.671,-0.315],[-0.822,-0.298],[-0.837,-0.304],[-0.806,-0.373],[-0.82,-0.392],[-0.858,-0.36],[-0.856,-0.467],[-0.809,-0.504],[-0.759,-0.651],[-0.749,-0.632],[-0.825,-0.667],[-0.91,-0.694],[-0.955,-0.606],[-0.993,-0.472],[-0.988,-0.512],[-0.941,-0.467],[-0.967,-0.445],[-0.943,-0.405],[-0.978,-0.373],[-0.962,-0.339],[-0.943,-0.312],[-0.91,-0.285],[-0.894,-0.245],[-0.871,-0.218],[-0.848,-0.205],[-0.926,-0.192],[-0.931,-0.232],[-0.954,-0.224],[-0.965,-0.285],[-0.998,-0.258],[-1.014,-0.285],[-1.03,-0.285],[-1.052,-0.293],[-1.017,-0.347],[-1.04,-0.405],[-1.061,-0.357],[-1.024,-0.459],[-1.045,-0.531],[-1.006,-0.56],[-0.991,-0.571],[-1.056,-0.571],[-1.009,-0.197],[-0.981,-0.184],[-0.928,-0.178],[-0.868,-0.133],[-0.832,-0.117],[-0.894,-0.072],[-0.915,0.054],[-0.948,0.07],[-0.894,0.009],[-0.874,0.089],[-0.853,0.009],[-0.848,0.062],[-0.926,-0.018],[-0.941,-0.053],[-0.962,-0.08],[-0.978,-0.018],[-0.874,-0.032],[-0.858,-0.072],[-0.842,-0.098]];
const blueLevel1 = [[-2,1.382],[-1.974,1.462],[-1.948,1.43],[-1.792,1.47],[-1.719,1.387],[-1.678,1.449],[-1.641,1.555],[-1.626,1.609],[-1.511,1.475],[-1.459,1.609],[-1.376,1.529],[-1.334,1.609],[-1.293,1.582],[-1.23,1.662],[-1.21,1.596],[-1.158,1.662],[-1.085,1.582],[-1.02,1.55],[-0.935,1.51],[-0.895,1.56],[-0.795,1.455],[-0.725,1.4],[-0.67,1.3],[-0.625,1.215],[-0.59,1.14],[-0.57,1.06],[-0.525,0.99],[-0.57,0.925],[-0.59,0.82],[-0.61,0.74],[-0.525,0.7],[-0.57,0.66],[-0.655,0.635],[-0.733,0.596],[-0.77,0.502],[-0.79,0.396],[-0.842,0.289],[-0.91,0.169],[-0.952,0.089],[-0.983,-0.005],[-1.004,-0.072],[-1.064,-0.27],[-1.095,-0.37],[-1.168,-0.355],[-1.2,-0.29],[-1.225,-0.33],[-1.35,-0.352],[-1.366,-0.5],[-1.501,-0.5],[-1.584,-0.285],[-1.657,-0.178],[-1.74,-0.231],[-1.808,-0.165],[-1.802,-0.111],[-1.865,-0.044],[-2,0.009]];
const blueLevel2 = [[-2,1.215],[-1.925,1.23],[-1.77,1.3],[-1.685,1.35],[-1.57,1.375],[-1.43,1.4],[-1.23,1.47],[-1.075,1.4],[-0.935,1.365],[-0.85,1.31],[-0.765,1.245],[-0.71,1.11],[-0.7,0.98],[-0.71,0.845],[-0.74,0.74],[-0.81,0.71],[-0.82,0.555],[-0.92,0.37],[-1.035,0.37],[-1.15,0.17],[-1.22,0.01],[-1.36,0.01],[-1.445,-0.045],[-1.545,0.075],[-1.67,0.1],[-1.755,0.21],[-1.885,0.26],[-2,0.34]];
const blueLevel3 = [[-2,0.82],[-1.925,0.925],[-1.825,1.06],[-1.685,1.165],[-1.53,1.245],[-1.36,1.285],[-1.22,1.3],[-1.075,1.245],[-0.965,1.18],[-0.885,1.085],[-0.88,0.9],[-0.92,0.79],[-0.98,0.7],[-1.05,0.555],[-1.16,0.395],[-1.275,0.26],[-1.445,0.235],[-1.57,0.34],[-1.755,0.41],[-1.9,0.555],[-2,0.66]];
const blueLevel4 = [[-1.825,0.71],[-1.805,0.82],[-1.685,0.98],[-1.57,1.06],[-1.43,1.125],[-1.33,1.18],[-1.205,1.165],[-1.075,1.06],[-1.015,1.005],[-1.05,0.82],[-1.12,0.66],[-1.22,0.525],[-1.345,0.395],[-1.485,0.395],[-1.585,0.395],[-1.685,0.5],[-1.785,0.58]];
const blueLevel5 = [[-1.68,0.71],[-1.63,0.87],[-1.515,0.98],[-1.375,1.045],[-1.19,1.005],[-1.19,0.87],[-1.22,0.71],[-1.29,0.58],[-1.4,0.525],[-1.5,0.515],[-1.615,0.555],[-1.645,0.635]];
const blueSpecks = [[-1.975,1.44],[-1.16,1.65],[-0.57,1.25],[-0.95,1.55],[-2,-0.04],[-0.92,-0.045],[-0.93,-0.15],[-1.2,-0.655],[-1.04,-0.4],[-1.205,-0.55],[-0.76,0.24],[-0.89,-0.02]];
const blueGaps = [[[-1.641,-0.205],[-1.6,-0.298]],[[-1.558,-0.205],[-1.506,-0.285]],[[-1.454,-0.352],[-1.407,-0.432]],[[-1.137,-0.165],[-1.106,-0.191]],[[-1.797,-0.01],[-1.75,-0.026]],[[-0.92,0.142],[-0.894,0.115]],[[-0.957,0.035],[-0.936,0]],[[-1.2,-0.28],[-1.2,-0.36]],[[-0.6,0.76],[-0.62,0.72]],[[-0.58,1.09],[-0.55,1.07]]];

const panels = [
  { top: 39, points: redPoints, dot: "#c11305", levels: [redLevel1, redLevel2, redLevel3, redLevel4, redLevel5],
    fills: ["#6a0000", "#4a0000", "#3f0000", "#340000", "#2a0000"], specks: redSpecks, speck: "#5e0000", gaps: redGaps },
  { top: 415, points: grayPoints, dot: "#808080", levels: [grayLevel1, grayLevel2, grayLevel3, grayLevel4, grayLevel5],
    fills: ["#b4b4b4", "#979797", "#6e6e6e", "#3c3c3c", "#222222"], specks: graySpecks, speck: "#b4b4b4", darkSpecks: grayDarkSpecks, gaps: [] },
  { top: 792, points: bluePoints, dot: "#0a3cb0", levels: [blueLevel1, blueLevel2, blueLevel3, blueLevel4, blueLevel5],
    fills: ["#0088f5", "#0066d0", "#000f8a", "#000050", "#000028"], specks: blueSpecks, speck: "#0088f5", gaps: blueGaps }
];

let svgWidth = 830;
let svgHeight = 1246;
let left = 121;
let plotWidth = 672;
let plotHeight = 375;

let svg = d3.select("#graph-section").append("svg")
  .attr("width", svgWidth)
  .attr("height", svgHeight);

let x = d3.scaleLinear().domain([-2, 0.1]).range([0, plotWidth]);
let y = d3.scaleLinear().domain([-0.7, 2.3]).range([plotHeight, 0]);
let line = d3.line().x(d => x(d[0])).y(d => y(d[1]));

svg.append("defs").append("clipPath").attr("id", "plot-clip")
  .append("rect").attr("width", plotWidth).attr("height", plotHeight);

function drawAxis(g, axis, values, size, labels) {
  let a = g.append("g").attr("class", "axis");
  a.call(axis.tickValues(values).tickSize(-size).tickSizeOuter(0).tickPadding(labels ? 11 : 0)
    .tickFormat(labels ? d3.format(".1f") : ""));
  a.select(".domain").remove();
  a.selectAll("line").attr("stroke", "#000").attr("stroke-width", 2);
  a.selectAll("text").attr("font-size", 26).attr("letter-spacing", 1);
  return a;
}

panels.forEach((p, i) => {
  let g = svg.append("g").attr("transform", `translate(${left},${p.top})`);
  let plot = g.append("g").attr("clip-path", "url(#plot-clip)");

  p.levels.forEach((level, k) => {
    plot.append("path").attr("d", line(level) + "Z").attr("fill", p.fills[k]);
  });

  p.gaps.forEach(gap => {
    plot.append("path").attr("d", line(gap)).attr("stroke", "#fff").attr("stroke-width", 4.5).attr("fill", "none");
  });

  let diamond = d3.symbol().type(d3.symbolDiamond).size(70);
  plot.selectAll(".speck").data(p.specks).enter().append("path").attr("class", "speck")
    .attr("d", diamond).attr("fill", p.speck)
    .attr("transform", d => `translate(${x(d[0])},${y(d[1])}) scale(1.7,0.75)`);
  plot.selectAll(".dark-speck").data(p.darkSpecks || []).enter().append("path").attr("class", "dark-speck")
    .attr("d", d3.symbol().type(d3.symbolTriangle).size(40)).attr("fill", "#555")
    .attr("transform", d => `translate(${x(d[0])},${y(d[1])})`);

  // the scatter sits on top of the outer contour edge
  plot.selectAll("circle").data(p.points).enter().append("circle")
    .attr("cx", d => x(d[0])).attr("cy", d => y(d[1]))
    .attr("r", 3.6).attr("fill", p.dot);

  plot.append("path").attr("d", line(dashedLine))
    .attr("stroke", "#000").attr("stroke-width", 2.6).attr("fill", "none").attr("stroke-dasharray", "12,8");

  // ticks on all four sides, labels only on the left and on the last bottom axis
  let last = i === panels.length - 1;
  let bottom = g.append("g").attr("transform", `translate(0,${plotHeight})`);
  let top = g.append("g");
  let right = g.append("g").attr("transform", `translate(${plotWidth},0)`);
  drawAxis(bottom, d3.axisBottom(x), xMajor, 7, last);
  drawAxis(bottom, d3.axisBottom(x), xMinor, 3.5, false);
  drawAxis(top, d3.axisTop(x), xMajor, 7, false);
  drawAxis(top, d3.axisTop(x), xMinor, 3.5, false);
  drawAxis(g, d3.axisLeft(y), yMajor, 12, true);
  drawAxis(g, d3.axisLeft(y), yMinor, 6, false);
  drawAxis(right, d3.axisRight(y), yMajor, 12, false);
  drawAxis(right, d3.axisRight(y), yMinor, 6, false);

  g.append("rect").attr("width", plotWidth).attr("height", plotHeight)
    .attr("fill", "none").attr("stroke", "#000").attr("stroke-width", 2);
});

svg.append("text").attr("x", 717).attr("y", 104).attr("text-anchor", "middle")
  .attr("font-size", 29).text("(b)");

let xTitle = svg.append("text").attr("x", 456).attr("y", 1236).attr("text-anchor", "middle")
  .attr("font-size", 26).attr("letter-spacing", 2.2);
xTitle.append("tspan").text("LOG ([Ne");
xTitle.append("tspan").attr("font-size", 22).text("III");
xTitle.append("tspan").text("]/[O");
xTitle.append("tspan").attr("font-size", 22).text("II");
xTitle.append("tspan").text("])");

let yTitle = svg.append("text").attr("transform", "translate(27,605) rotate(-90)").attr("text-anchor", "middle")
  .attr("font-size", 26).attr("letter-spacing", 3);
yTitle.append("tspan").attr("font-size", 15).attr("font-weight", "bold").attr("letter-spacing", 1).text("ao");
yTitle.append("tspan").text("(g\u2212z)");
</script>
</body>
</html>
